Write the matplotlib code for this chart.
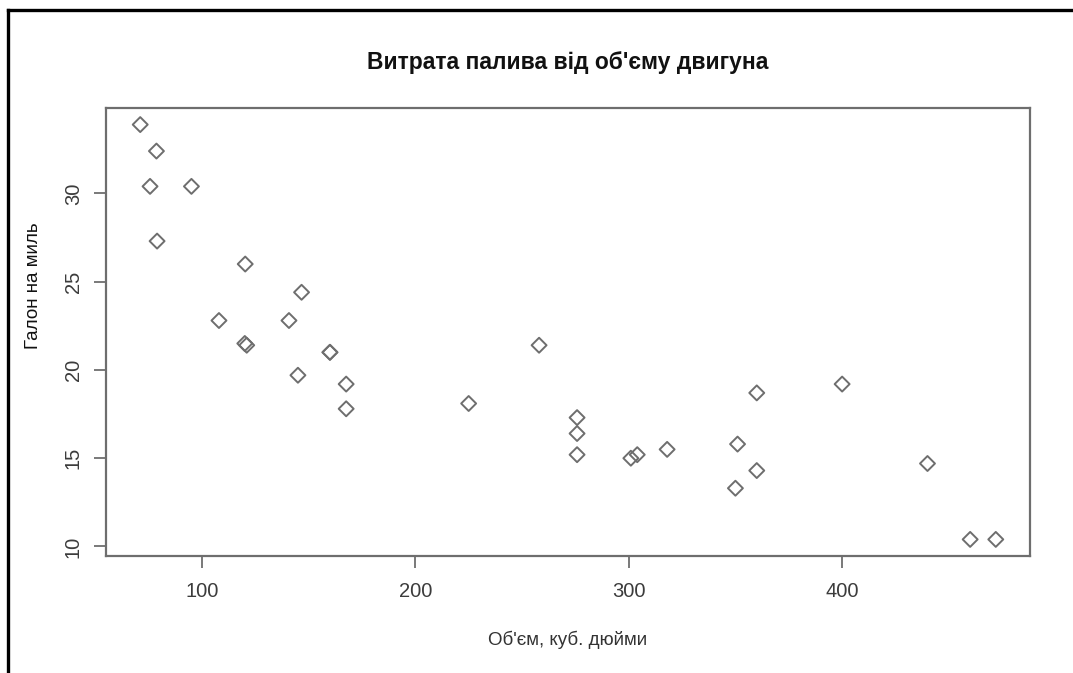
import matplotlib
matplotlib.use("Agg")
import matplotlib.pyplot as plt
from matplotlib.lines import Line2D

plt.rcParams['font.family'] = ['Liberation Sans', 'DejaVu Sans']

# Engine displacement (cubic inches) and fuel economy (miles per gallon)
displacement = [160, 160, 108, 258, 360, 225, 360, 146.7, 140.8, 167.6, 167.6,
                275.8, 275.8, 275.8, 472, 460, 440, 78.7, 75.7, 71.1, 120.1,
                318, 304, 350, 400, 79, 120.3, 95.1, 351, 145, 301, 121]
mpg = [21.0, 21.0, 22.8, 21.4, 18.7, 18.1, 14.3, 24.4, 22.8, 19.2, 17.8,
       16.4, 17.3, 15.2, 10.4, 10.4, 14.7, 32.4, 30.4, 33.9, 21.5,
       15.5, 15.2, 13.3, 19.2, 27.3, 26.0, 30.4, 15.8, 19.7, 15.0, 21.4]

x_ticks = [100, 200, 300, 400]
y_ticks = [10, 15, 20, 25, 30]

title = "Витрата палива від об'єму двигуна"
x_label = "Об'єм, куб. дюйми"
y_label = "Галон на миль"

W, H = 1073, 673
fig = plt.figure(figsize=(W / 100, H / 100), dpi=100)
fig.patch.set_facecolor('white')

left, right, top, bottom = 106, 1030, 108, 556
ax = fig.add_axes([left / W, 1 - bottom / H, (right - left) / W, (bottom - top) / H])

ax.scatter(displacement, mpg, marker='D', s=58, facecolors='none',
           edgecolors='#6e6e6e', linewidths=1.4)

# R-style 4% padding around the data range
def padded(vals):
    lo, hi = min(vals), max(vals)
    d = (hi - lo) * 0.04
    return lo - d, hi + d

ax.set_xlim(*padded(displacement))
ax.set_ylim(*padded(mpg))

ax.set_xticks(x_ticks)
ax.set_yticks(y_ticks)
ax.tick_params(axis='both', direction='out', length=8.6, width=1.3,
               color='#6e6e6e', labelcolor='#3c3c3c', labelsize=14.5)
ax.tick_params(axis='x', pad=10)
ax.tick_params(axis='y', pad=8)
for lbl in ax.get_yticklabels():
    lbl.set_rotation(90)
    lbl.set_va('center')

for sp in ax.spines.values():
    sp.set_color('#6e6e6e')
    sp.set_linewidth(1.6)

fig.text(568 / W, 1 - 62 / H, title, ha='center', va='center',
         fontsize=16.5, fontweight='bold', color='#111111')
fig.text(568 / W, 1 - 640 / H, x_label, ha='center', va='center',
         fontsize=13.5, color='#333333')
fig.text(33 / W, 1 - 286 / H, y_label, ha='center', va='center',
         fontsize=13.5, color='#111111', rotation=90)

# Window frame edges on the left and top
fig.add_artist(Line2D([8 / W, 8 / W], [0, 1 - 10 / H], transform=fig.transFigure,
                      color='black', linewidth=2.4, solid_capstyle='projecting'))
fig.add_artist(Line2D([8 / W, 1], [1 - 10 / H, 1 - 10 / H], transform=fig.transFigure,
                      color='black', linewidth=2.4, solid_capstyle='projecting'))

fig.savefig('out.png', dpi=100)
